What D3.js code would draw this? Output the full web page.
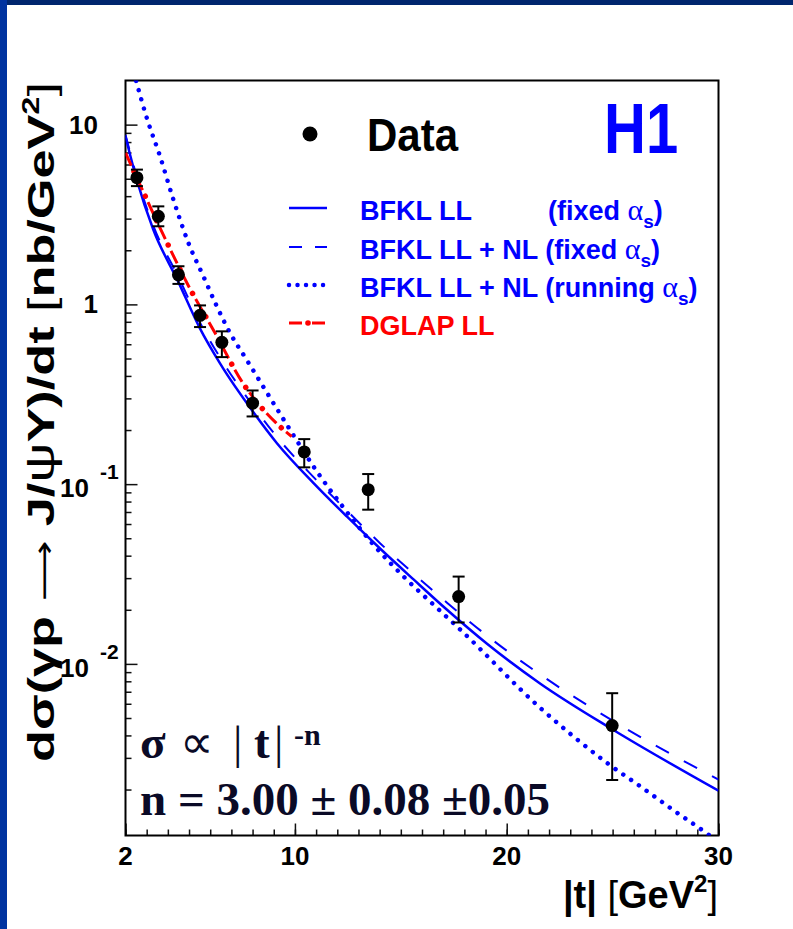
<!DOCTYPE html>
<html>
<head>
<meta charset="UTF-8">
<title>H1 J/psi large |t|</title>
<script src="https://cdn.jsdelivr.net/npm/d3@7"></script>
<style>
  body { margin: 0; background: #fff; }
  svg { display: block; }
  .sans { font-family: "Liberation Sans", Arial, sans-serif; }
  .serif { font-family: "Liberation Serif", "Times New Roman", serif; }
</style>
</head>
<body>
<svg id="chart" width="793" height="929"></svg>
<script>
// measured points (|t| in GeV^2, dsigma/dt in nb/GeV^2)
const tData = [2.54, 3.55, 4.50, 5.52, 6.55, 8.00, 10.44, 13.46, 17.73, 24.98];
const sigData = [5.07, 3.09, 1.46, 0.869, 0.615, 0.282, 0.151, 0.0931, 0.0237, 0.00454];
const sigHi = [5.62, 3.51, 1.63, 0.987, 0.708, 0.332, 0.178, 0.1138, 0.0306, 0.00687];
const sigLo = [4.55, 2.72, 1.30, 0.748, 0.509, 0.238, 0.124, 0.0721, 0.0170, 0.00226];

// BFKL LL fixed alpha_s (solid)
const bfklT = [2.0, 2.53, 3.31, 4.5, 5.52, 6.47, 8.04, 9.15, 10.88, 12.45, 14.03, 15.6, 17.18, 19.07, 21.59, 24.98, 30];
const bfklLL = [8.57, 4.94, 2.61, 1.33, 0.733, 0.468, 0.251, 0.169, 0.1014, 0.0661, 0.0437, 0.0295, 0.0200, 0.01294, 0.00776, 0.00433, 0.00197];
// BFKL LL + NL fixed alpha_s (dashed)
const bfklNL = [8.79, 5.14, 2.74, 1.42, 0.791, 0.505, 0.271, 0.183, 0.1094, 0.0713, 0.0468, 0.0318, 0.0219, 0.01435, 0.00871, 0.00485, 0.00227];
// BFKL LL + NL running alpha_s (dotted)
const runT = [2.5, 3.03, 3.63, 4.26, 4.97, 5.68, 6.31, 6.94, 7.73, 8.67, 9.62, 11.04, 12.37, 13.71, 15.13, 16.55, 17.81, 21.59, 23.16, 24.74, 26.32, 27.89, 29.54, 30];
const bfklRun = [17.5, 10.67, 6.67, 3.83, 2.20, 1.43, 0.977, 0.692, 0.490, 0.324, 0.214, 0.1175, 0.0721, 0.0460, 0.0306, 0.0213, 0.0155, 0.00568, 0.00394, 0.00281, 0.00208, 0.00153, 0.00112, 0.00102];
// DGLAP LL (dash-dot)
const dglapT = [2.0, 2.72, 3.82, 4.97, 6.23, 7.49, 9.11, 9.85];
const dglap = [6.97, 4.54, 2.39, 1.27, 0.693, 0.373, 0.219, 0.184];

const xTickLabels = [2, 10, 20, 30];
const yTickLabels = [10, 1, 0.1, 0.01];

const svg = d3.select("#chart");
const blue = "#0000ff", red = "#ff0000";

// page frame (dark blue bands)
svg.append("rect").attr("x", 0).attr("y", 0).attr("width", 793).attr("height", 5).attr("fill", "#00266e");
svg.append("rect").attr("x", 0).attr("y", 0).attr("width", 7).attr("height", 929).attr("fill", "#0033a0");

const L = 125.5, R = 718.5, T = 80.5, B = 835.5;
const x = d3.scaleLinear().domain([2, 30]).range([L, R]);
const y = d3.scaleLog().domain([0.00111, 17.6]).range([B, T]);

svg.append("clipPath").attr("id", "clip")
    .append("rect").attr("x", L).attr("y", T).attr("width", R - L).attr("height", B - T);

// ticks
const xMinor = d3.range(2, 31);
svg.append("g").attr("transform", `translate(0,${B})`)
    .call(d3.axisTop(x).tickValues(xMinor).tickSize(6).tickFormat(""))
    .call(g => g.select(".domain").remove())
    .selectAll("line").attr("stroke", "#111").attr("stroke-width", 1.5);
svg.append("g").attr("transform", `translate(0,${B})`)
    .call(d3.axisTop(x).tickValues(xTickLabels).tickSize(12).tickFormat(""))
    .call(g => g.select(".domain").remove())
    .selectAll("line").attr("stroke", "#111").attr("stroke-width", 1.5);

const yMinor = [];
[0.001, 0.01, 0.1, 1].forEach(d => { for (let k = 2; k <= 9; k++) { const v = k * d; if (v > 0.00111 && v < 17.6) yMinor.push(v); } });
svg.append("g").attr("transform", `translate(${L},0)`)
    .call(d3.axisRight(y).tickValues(yMinor).tickSize(6).tickFormat(""))
    .call(g => g.select(".domain").remove())
    .selectAll("line").attr("stroke", "#111").attr("stroke-width", 1.5);
svg.append("g").attr("transform", `translate(${L},0)`)
    .call(d3.axisRight(y).tickValues(yTickLabels).tickSize(12).tickFormat(""))
    .call(g => g.select(".domain").remove())
    .selectAll("line").attr("stroke", "#111").attr("stroke-width", 1.5);

// tick labels
svg.append("g").selectAll("text").data(xTickLabels).join("text")
    .attr("class", "sans").attr("x", d => x(d)).attr("y", 865)
    .attr("text-anchor", "middle").attr("font-size", 26).attr("font-weight", "bold")
    .text(d => d);

yTickLabels.forEach(v => {
  const e = Math.round(Math.log10(v));
  if (e >= 0) {
    svg.append("text").attr("class", "sans").attr("x", 98).attr("y", y(v) + 9)
        .attr("text-anchor", "end").attr("font-size", 26).attr("font-weight", "bold").text(v);
  } else {
    const t = svg.append("text").attr("class", "sans").attr("x", 60).attr("y", y(v) + 13)
        .attr("font-size", 26).attr("font-weight", "bold");
    t.append("tspan").text("10");
    t.append("tspan").attr("dx", 11).attr("dy", -18).attr("font-size", 21).text(e);
  }
});

// frame
svg.append("rect").attr("x", L).attr("y", T).attr("width", R - L).attr("height", B - T)
    .attr("fill", "none").attr("stroke", "#000").attr("stroke-width", 2);

// curves
const line = d3.line().x(d => x(d[0])).y(d => y(d[1])).curve(d3.curveMonotoneX);
const plot = svg.append("g").attr("clip-path", "url(#clip)");

plot.append("path").attr("d", line(d3.zip(bfklT, bfklLL)))
    .attr("fill", "none").attr("stroke", blue).attr("stroke-width", 2.5);
plot.append("path").attr("d", line(d3.zip(bfklT, bfklNL)))
    .attr("fill", "none").attr("stroke", blue).attr("stroke-width", 2).attr("stroke-dasharray", "15 17");
plot.append("path").attr("d", line(d3.zip(runT, bfklRun)))
    .attr("fill", "none").attr("stroke", blue).attr("stroke-width", 4.5)
    .attr("stroke-linecap", "round").attr("stroke-dasharray", "0.01 9.5");
const dg = line(d3.zip(dglapT, dglap));
plot.append("path").attr("d", dg)
    .attr("fill", "none").attr("stroke", red).attr("stroke-width", 3).attr("stroke-dasharray", "14 13");
plot.append("path").attr("d", dg)
    .attr("fill", "none").attr("stroke", red).attr("stroke-width", 5.5)
    .attr("stroke-linecap", "round").attr("stroke-dasharray", "0.01 27").attr("stroke-dashoffset", -20.5);

// data with error bars
const pts = tData.map((t, i) => ({ t, s: sigData[i], hi: sigHi[i], lo: sigLo[i] }));
const eb = svg.append("g").attr("stroke", "#000").attr("stroke-width", 2);
eb.selectAll(".v").data(pts).join("line")
    .attr("x1", d => x(d.t)).attr("x2", d => x(d.t)).attr("y1", d => y(d.hi)).attr("y2", d => y(d.lo));
eb.selectAll(".ch").data(pts).join("line")
    .attr("x1", d => x(d.t) - 6).attr("x2", d => x(d.t) + 6).attr("y1", d => y(d.hi)).attr("y2", d => y(d.hi));
eb.selectAll(".cl").data(pts).join("line")
    .attr("x1", d => x(d.t) - 6).attr("x2", d => x(d.t) + 6).attr("y1", d => y(d.lo)).attr("y2", d => y(d.lo));
svg.append("g").selectAll("circle").data(pts).join("circle")
    .attr("cx", d => x(d.t)).attr("cy", d => y(d.s)).attr("r", 6.5).attr("fill", "#000");

// legend
svg.append("circle").attr("cx", 310).attr("cy", 134).attr("r", 7.5).attr("fill", "#000");
svg.append("text").attr("class", "sans").attr("transform", "translate(367,151) scale(1,1.1)")
    .attr("font-size", 42).attr("font-weight", "bold").attr("fill", "#000").text("Data");
svg.append("text").attr("class", "sans").attr("transform", "translate(604,153) scale(1,1.2)")
    .attr("font-size", 58).attr("font-weight", "bold").attr("fill", blue).text("H1");

const legRows = [
  { y: 208, label: "BFKL LL", note: "(fixed ", sub: "s", color: blue, dash: null, w: 2.5 },
  { y: 247, label: "BFKL LL + NL (fixed ", sub: "s", color: blue, dash: "13 13", w: 2 },
  { y: 285, label: "BFKL LL + NL (running ", sub: "s", color: blue, dash: "0.01 8.5", w: 4.5 },
  { y: 323, label: "DGLAP LL", sub: null, color: red, dash: "13 5 0.01 5", w: 3 }
];
legRows.forEach(r => {
  svg.append("line").attr("x1", 289).attr("x2", 327).attr("y1", r.y).attr("y2", r.y)
      .attr("stroke", r.color).attr("stroke-width", r.w)
      .attr("stroke-dasharray", r.dash).attr("stroke-linecap", r.dash && r.dash.startsWith("0.01") ? "round" : "butt");
  if (r.color === red) {
    svg.append("circle").attr("cx", 308).attr("cy", r.y).attr("r", 2.8).attr("fill", red);
  }
  const t = svg.append("text").attr("class", "sans").attr("x", 360).attr("y", r.y + 12)
      .attr("font-size", 27).attr("font-weight", "bold").attr("fill", r.color);
  t.append("tspan").text(r.label);
  let host = t;
  if (r.note) {
    host = svg.append("text").attr("class", "sans").attr("x", 548).attr("y", r.y + 12)
        .attr("font-size", 27).attr("font-weight", "bold").attr("fill", r.color);
    host.append("tspan").text(r.note);
  }
  if (r.sub) {
    host.append("tspan").attr("class", "serif").attr("font-weight", "normal").attr("font-size", 30).text("\u03b1");
    host.append("tspan").attr("dy", 8).attr("font-size", 19).text(r.sub);
    host.append("tspan").attr("dy", -8).text(")");
  }
});

// fit annotation
const a1 = svg.append("text").attr("class", "serif").attr("y", 758)
    .attr("font-size", 47).attr("font-weight", "bold").attr("fill", "#0a0a26");
a1.append("tspan").attr("x", 140).text("\u03c3");
a1.append("tspan").attr("x", 180).attr("font-weight", "normal").text("\u221d");
a1.append("tspan").attr("x", 233).attr("font-weight", "normal").text("|");
a1.append("tspan").attr("x", 254).text("t");
a1.append("tspan").attr("x", 274).attr("font-weight", "normal").text("|");
a1.append("tspan").attr("x", 294).attr("dy", -13).attr("font-size", 30).text("-n");
svg.append("text").attr("class", "serif").attr("x", 140).attr("y", 815)
    .attr("font-size", 47).attr("font-weight", "bold").attr("fill", "#0a0a26")
    .text("n = 3.00 \u00b1 0.08 \u00b10.05");

// axis titles
const xt = svg.append("text").attr("class", "sans").attr("x", 718).attr("y", 908)
    .attr("text-anchor", "end").attr("font-size", 38).attr("font-weight", "bold").attr("fill", "#000");
xt.append("tspan").text("|t| ");
xt.append("tspan").attr("font-weight", "normal").text("[");
xt.append("tspan").text("GeV");
xt.append("tspan").attr("dy", -16).attr("font-size", 24).text("2");
xt.append("tspan").attr("dy", 16).attr("font-weight", "normal").text("]");

const yg = svg.append("g").attr("transform", "translate(54,422) rotate(-90)");
const yt = yg.append("text").attr("class", "sans").attr("text-anchor", "middle")
    .attr("font-size", 37).attr("font-weight", "bold").attr("fill", "#000");
yt.append("tspan").text("d\u03c3(\u03b3p ");
yt.append("tspan").attr("font-family", "DejaVu Sans").attr("font-weight", "normal").attr("font-size", 30).text("\u27f6");
yt.append("tspan").text(" J/");
yt.append("tspan").attr("font-weight", "normal").attr("font-size", 40).text("\u03c8");
yt.append("tspan").text("Y)/dt ");
yt.append("tspan").attr("font-weight", "normal").text("[");
yt.append("tspan").text("nb/GeV");
yt.append("tspan").attr("dy", -15).attr("font-size", 23).text("2");
yt.append("tspan").attr("dy", 15).attr("font-weight", "normal").text("]");
const ytw = yt.node().getComputedTextLength();
yt.attr("transform", `scale(${680 / ytw},1)`);
</script>
</body>
</html>
